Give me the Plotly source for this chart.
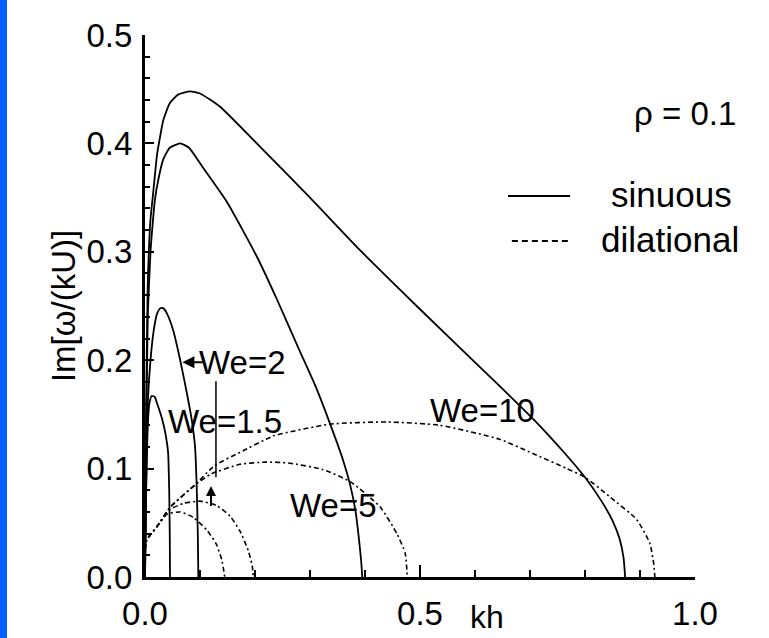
import plotly.graph_objects as go

# ---------------- data ----------------
# sinuous mode
kh_s_we10 = [0, 0.002, 0.005, 0.01, 0.015, 0.022, 0.027, 0.033, 0.045, 0.06, 0.082, 0.1, 0.136, 0.209,
             0.3, 0.39, 0.5, 0.6, 0.645, 0.713, 0.76, 0.8, 0.83, 0.85, 0.863, 0.87, 0.873]
im_s_we10 = [0, 0.15, 0.27, 0.33, 0.355, 0.39, 0.405, 0.421, 0.437, 0.445, 0.448, 0.446, 0.434, 0.397,
             0.350, 0.302, 0.247, 0.198, 0.176, 0.142, 0.116, 0.092, 0.07, 0.052, 0.035, 0.018, 0.0]

kh_s_we5 = [0, 0.002, 0.005, 0.01, 0.015, 0.018, 0.024, 0.033, 0.045, 0.064, 0.08, 0.105, 0.149, 0.204,
            0.24, 0.28, 0.31, 0.336, 0.36, 0.373, 0.383, 0.389, 0.393, 0.395]
im_s_we5 = [0, 0.12, 0.24, 0.3, 0.332, 0.348, 0.366, 0.385, 0.396, 0.4, 0.396, 0.378, 0.346, 0.295,
            0.256, 0.21, 0.176, 0.142, 0.108, 0.085, 0.06, 0.035, 0.015, 0.0]

kh_s_we2 = [0, 0.002, 0.005, 0.01, 0.016, 0.022, 0.028, 0.033, 0.04, 0.051, 0.064, 0.076, 0.085, 0.091,
            0.094, 0.096, 0.097]
im_s_we2 = [0, 0.08, 0.16, 0.2, 0.228, 0.243, 0.248, 0.248, 0.243, 0.228, 0.2, 0.17, 0.145, 0.12,
            0.083, 0.04, 0.0]

kh_s_we15 = [0, 0.002, 0.005, 0.008, 0.012, 0.018, 0.022, 0.028, 0.033, 0.038, 0.042, 0.044, 0.045, 0.0455]
im_s_we15 = [0, 0.08, 0.14, 0.16, 0.167, 0.166, 0.16, 0.151, 0.142, 0.13, 0.115, 0.08, 0.04, 0.0]

# dilational mode
kh_d_we10 = [0, 0.003, 0.021, 0.045, 0.091, 0.127, 0.173, 0.233, 0.336, 0.44, 0.536, 0.645, 0.705,
             0.767, 0.8, 0.845, 0.894, 0.918, 0.925, 0.927]
im_d_we10 = [0.025, 0.034, 0.046, 0.064, 0.085, 0.103, 0.115, 0.13, 0.141, 0.143, 0.14, 0.127, 0.114,
             0.1, 0.092, 0.074, 0.053, 0.031, 0.012, 0.0]

kh_d_we5 = [0, 0.003, 0.021, 0.045, 0.091, 0.12, 0.173, 0.22, 0.264, 0.324, 0.373, 0.427, 0.458, 0.473, 0.477]
im_d_we5 = [0.025, 0.034, 0.046, 0.064, 0.085, 0.095, 0.104, 0.106, 0.105, 0.099, 0.088, 0.065, 0.04, 0.022, 0.0]

kh_d_we2 = [0, 0.003, 0.021, 0.045, 0.07, 0.1, 0.13, 0.155, 0.173, 0.188, 0.195, 0.197]
im_d_we2 = [0.025, 0.034, 0.046, 0.062, 0.068, 0.07, 0.066, 0.056, 0.042, 0.024, 0.01, 0.0]

kh_d_we15 = [0, 0.003, 0.021, 0.04, 0.064, 0.088, 0.113, 0.13, 0.14, 0.145]
im_d_we15 = [0.025, 0.034, 0.046, 0.058, 0.06, 0.055, 0.043, 0.03, 0.015, 0.0]

x_ticks = [0.0, 0.5, 1.0]
y_ticks = [0.0, 0.1, 0.2, 0.3, 0.4, 0.5]

# ---------------- figure ----------------
FONT = "Liberation Sans, Arial, Helvetica, sans-serif"
fig = go.Figure()

sinuous = [(kh_s_we10, im_s_we10), (kh_s_we5, im_s_we5), (kh_s_we2, im_s_we2), (kh_s_we15, im_s_we15)]
dilational = [(kh_d_we10, im_d_we10), (kh_d_we5, im_d_we5), (kh_d_we2, im_d_we2), (kh_d_we15, im_d_we15)]

for kx, ky in dilational:
    fig.add_trace(go.Scatter(x=kx, y=ky, mode="lines", showlegend=False,
                             line=dict(color="black", width=1.6, dash="5px,3px,2px,3px",
                                       shape="spline", smoothing=0.5)))
for kx, ky in sinuous:
    fig.add_trace(go.Scatter(x=kx, y=ky, mode="lines", showlegend=False,
                             line=dict(color="black", width=1.8, shape="spline", smoothing=0.5)))

fig.update_layout(
    width=769, height=638,
    margin=dict(l=145, r=74, t=35, b=61, autoexpand=False),
    paper_bgcolor="white", plot_bgcolor="white",
    font=dict(family=FONT, size=33, color="black"),
    showlegend=False,
)
fig.update_xaxes(range=[0, 1.0], tickvals=x_ticks, tickformat=".1f", automargin=False,
                 showgrid=False, zeroline=False, showline=True, linecolor="black", linewidth=3,
                 ticks="inside", ticklen=12, tickwidth=2, tickcolor="black",
                 ticklabelstandoff=5,
                 minor=dict(dtick=0.1, ticks="inside", ticklen=7, tickwidth=2, tickcolor="black"))
fig.update_yaxes(range=[0, 0.5], tickvals=y_ticks, tickformat=".1f", automargin=False,
                 showgrid=False, zeroline=False, showline=True, linecolor="black", linewidth=3,
                 ticks="inside", ticklen=9, tickwidth=2, tickcolor="black",
                 ticklabelstandoff=3,
                 minor=dict(dtick=0.02, ticks="inside", ticklen=5, tickwidth=2, tickcolor="black"))

ann = []
# axis titles
ann.append(dict(text="Im[ω/(kU)]", xref="paper", yref="paper", x=-0.149, y=0.5,
                textangle=-90, showarrow=False, xanchor="center", yanchor="middle",
                font=dict(size=33)))
ann.append(dict(text="kh", xref="paper", yref="paper", x=0.622, y=-0.1107,
                showarrow=False, xanchor="center", yanchor="bottom", font=dict(size=32)))
# rho and legend text
ann.append(dict(text="ρ = 0.1", xref="paper", yref="paper", x=0.982, y=0.855,
                showarrow=False, xanchor="center", yanchor="middle", font=dict(size=33)))
ann.append(dict(text="sinuous", xref="paper", yref="paper", x=0.958, y=0.705,
                showarrow=False, xanchor="center", yanchor="middle", font=dict(size=35)))
ann.append(dict(text="dilational", xref="paper", yref="paper", x=0.955, y=0.622,
                showarrow=False, xanchor="center", yanchor="middle", font=dict(size=35)))
# curve labels
for txt, lx, ly in [("We=2", 0.178, 0.198), ("We=1.5", 0.145, 0.143),
                    ("We=5", 0.342, 0.066), ("We=10", 0.613, 0.154)]:
    ann.append(dict(text=txt, x=lx, y=ly, xref="x", yref="y", showarrow=False,
                    xanchor="center", yanchor="middle", font=dict(size=33)))
# pointer arrows
ann.append(dict(text="", x=0.068, y=0.198, ax=0.112, ay=0.198, xref="x", yref="y",
                axref="x", ayref="y", showarrow=True, arrowhead=2, arrowsize=1.2,
                arrowwidth=2, arrowcolor="black"))
ann.append(dict(text="", x=0.129, y=0.092, ax=0.129, ay=0.182, xref="x", yref="y",
                axref="x", ayref="y", showarrow=True, arrowhead=0, arrowwidth=1.5,
                arrowcolor="black"))
ann.append(dict(text="", x=0.12, y=0.084, ax=0.12, ay=0.064, xref="x", yref="y",
                axref="x", ayref="y", showarrow=True, arrowhead=2, arrowsize=1,
                arrowwidth=2, arrowcolor="black"))
fig.update_layout(annotations=ann)

shapes = [
    # blue strip at the left edge
    dict(type="rect", xref="paper", yref="paper", x0=-0.2636, x1=-0.2509, y0=-0.113, y1=1.065,
         fillcolor="#0060ff", line=dict(width=0), layer="below"),
    # legend samples
    dict(type="line", xref="paper", yref="paper", x0=0.66, x1=0.773, y0=0.703, y1=0.703,
         line=dict(color="black", width=2)),
    dict(type="line", xref="paper", yref="paper", x0=0.667, x1=0.776, y0=0.62, y1=0.62,
         line=dict(color="black", width=2, dash="6px,4px")),
]
fig.update_layout(shapes=shapes)

fig.write_html("out.html")
